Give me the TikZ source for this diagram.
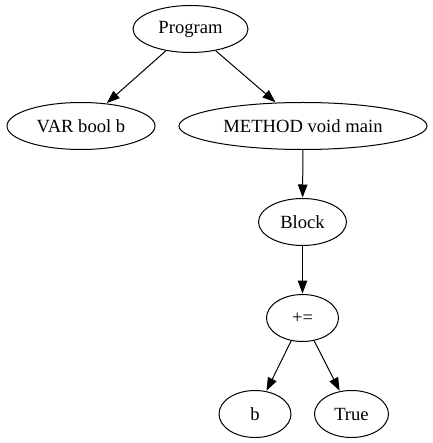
\documentclass[tikz,border=0pt]{standalone}
\usepackage{fontspec}
\setmainfont{Liberation Serif}
\usepackage{tikz}
\usetikzlibrary{arrows.meta}
\usetikzlibrary{shapes}
\tikzstyle{astnode}=[ellipse, draw, line width=1pt, minimum height=47pt, inner sep=1pt, font=\fontsize{18.6}{21}\selectfont]
\tikzstyle{astedge}=[line width=1pt, -{Triangle[length=13pt,width=9.5pt]}, shorten >=0.5pt]

\begin{document}
\begin{tikzpicture}[x=1pt,y=-1pt]
	\useasboundingbox (0,0) rectangle (432,443);
	\node[astnode, minimum width=115pt] (prog) at (190.5,29) {Program};
	\node[astnode, minimum width=148pt] (var) at (81,126) {VAR bool b};
	\node[astnode, minimum width=248pt] (method) at (303,126) {METHOD void main};
	\node[astnode, minimum width=88pt] (block) at (302.5,222) {Block};
	\node[astnode, minimum width=72pt] (assign) at (302.5,318) {+=};
	\node[astnode, minimum width=72pt] (lhs) at (255,414) {b};
	\node[astnode, minimum width=74pt] (rhs) at (351.5,414) {True};
	\draw[astedge] (prog) -- (var);
	\draw[astedge] (prog) -- (method);
	\draw[astedge] (method) -- (block);
	\draw[astedge] (block) -- (assign);
	\draw[astedge] (assign) -- (lhs);
	\draw[astedge] (assign) -- (rhs);
\end{tikzpicture}
\end{document}
